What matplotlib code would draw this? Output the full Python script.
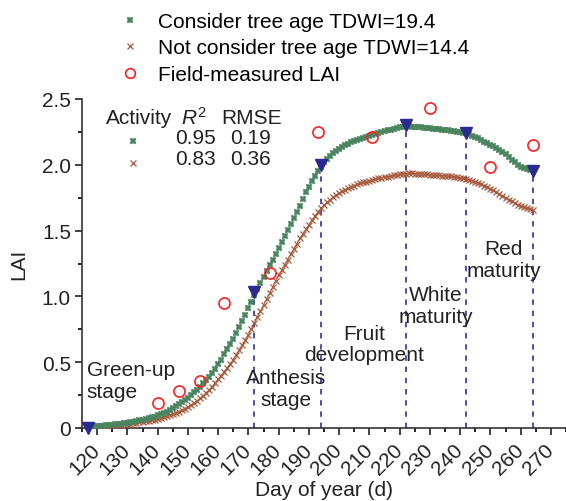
import numpy as np
import matplotlib
matplotlib.use("Agg")
import matplotlib.pyplot as plt
from matplotlib.lines import Line2D

plt.rcParams["font.family"] = ["Liberation Sans", "DejaVu Sans"]
plt.rcParams["mathtext.fontset"] = "custom"
plt.rcParams["mathtext.it"] = "Liberation Sans:italic"
plt.rcParams["mathtext.rm"] = "Liberation Sans"

# simulated LAI, one value per day from DOY 118 to 264
days = list(range(118, 265))

lai_age = [
    0.010, 0.012, 0.014, 0.016, 0.018, 0.020, 0.022, 0.025, 0.028, 0.031,   # 118
    0.034, 0.037, 0.040, 0.044, 0.048, 0.052, 0.057, 0.062, 0.067, 0.073,   # 128
    0.080, 0.087, 0.095, 0.104, 0.114, 0.125, 0.137, 0.150, 0.164, 0.179,   # 138
    0.195, 0.212, 0.230, 0.250, 0.270, 0.292, 0.315, 0.340, 0.365, 0.390,   # 148
    0.420, 0.450, 0.485, 0.520, 0.560, 0.600, 0.640, 0.680, 0.720, 0.765,   # 158
    0.810, 0.860, 0.910, 0.960, 1.010, 1.055, 1.100, 1.145, 1.190, 1.235,   # 168
    1.280, 1.325, 1.370, 1.415, 1.460, 1.505, 1.550, 1.595, 1.645, 1.690,   # 178
    1.740, 1.790, 1.835, 1.875, 1.915, 1.950, 1.985, 2.020, 2.045, 2.070,   # 188
    2.090, 2.105, 2.120, 2.135, 2.148, 2.160, 2.170, 2.180, 2.190, 2.198,   # 198
    2.206, 2.214, 2.222, 2.230, 2.237, 2.244, 2.250, 2.256, 2.262, 2.268,   # 208
    2.274, 2.280, 2.285, 2.290, 2.295, 2.293, 2.290, 2.288, 2.286, 2.284,   # 218
    2.282, 2.280, 2.277, 2.275, 2.272, 2.270, 2.268, 2.266, 2.264, 2.260,   # 228
    2.256, 2.252, 2.248, 2.244, 2.240, 2.232, 2.222, 2.212, 2.200, 2.188,   # 238
    2.176, 2.164, 2.152, 2.140, 2.126, 2.112, 2.098, 2.080, 2.060, 2.040,   # 248
    2.020, 2.000, 1.985, 1.975, 1.968, 1.962, 1.958,                        # 258
]

lai_no_age = [
    0.005, 0.007, 0.009, 0.011, 0.013, 0.015, 0.017, 0.019, 0.021, 0.023,   # 118
    0.025, 0.027, 0.030, 0.033, 0.036, 0.039, 0.042, 0.046, 0.050, 0.054,   # 128
    0.059, 0.064, 0.070, 0.076, 0.083, 0.090, 0.098, 0.106, 0.115, 0.125,   # 138
    0.136, 0.148, 0.160, 0.175, 0.190, 0.207, 0.225, 0.245, 0.267, 0.290,   # 148
    0.315, 0.342, 0.370, 0.398, 0.427, 0.457, 0.488, 0.520, 0.555, 0.590,   # 158
    0.628, 0.668, 0.710, 0.755, 0.800, 0.845, 0.890, 0.935, 0.980, 1.025,   # 168
    1.070, 1.115, 1.160, 1.200, 1.240, 1.280, 1.320, 1.360, 1.400, 1.440,   # 178
    1.475, 1.510, 1.545, 1.578, 1.610, 1.640, 1.668, 1.692, 1.714, 1.735,   # 188
    1.754, 1.771, 1.786, 1.800, 1.812, 1.823, 1.833, 1.842, 1.851, 1.859,   # 198
    1.866, 1.873, 1.879, 1.885, 1.891, 1.896, 1.901, 1.906, 1.911, 1.916,   # 208
    1.920, 1.924, 1.928, 1.931, 1.933, 1.934, 1.934, 1.933, 1.932, 1.931,   # 218
    1.930, 1.928, 1.926, 1.924, 1.922, 1.920, 1.918, 1.916, 1.914, 1.912,   # 228
    1.909, 1.906, 1.902, 1.898, 1.893, 1.887, 1.880, 1.872, 1.863, 1.853,   # 238
    1.842, 1.830, 1.818, 1.805, 1.792, 1.778, 1.764, 1.750, 1.736, 1.722,   # 248
    1.708, 1.695, 1.684, 1.676, 1.670, 1.665, 1.660,                        # 258
]

# field measurements
obs_day = [140, 147, 154, 162, 177, 193, 211, 230, 250, 264]
obs_lai = [0.19, 0.28, 0.36, 0.95, 1.18, 2.25, 2.21, 2.43, 1.98, 2.15]

# phenological stage dates
stage_day = [117, 172, 194, 222, 242, 264]
stage_lai = [0.0, 1.03, 2.00, 2.30, 2.24, 1.955]

stage_names = ["Green-up\nstage", "Anthesis\nstage", "Fruit\ndevelopment",
               "White\nmaturity", "Red\nmaturity"]
stage_text_x = [116.6, 182.5, 208.3, 231.9, 254.4]
stage_text_y = [0.36, 0.30, 0.64, 0.93, 1.28]

green = "#4a8560"
brown = "#a55a3c"
red = "#ff2020"
navy = "#2b2b8f"
dash_c = "#4040aa"

fs = 15

fig = plt.figure(figsize=(5.66, 5.02), dpi=100)
ax = fig.add_axes([82 / 566, 73 / 502, 484 / 566, 329 / 502])

ax.plot(days, lai_no_age, color=brown, lw=0.7, marker="x", ms=3.8, mew=0.9,
        label="Not consider tree age TDWI=14.4", zorder=3)
ax.plot(days, lai_age, color=green, lw=0, marker="X", ms=4.6, mew=0.3,
        label="Consider tree age TDWI=19.4", zorder=4)
ax.plot(obs_day, obs_lai, ls="none", marker="o", ms=8, mfc="none", mec=red,
        mew=1.2, label="Field-measured LAI", zorder=5)

for d, v in zip(stage_day[1:], stage_lai[1:]):
    ax.plot([d, d], [0, v], color=dash_c, lw=1.3, ls=(0, (3, 3.2)), zorder=2)
ax.plot(stage_day, stage_lai, ls="none", marker="v", ms=9, color=navy,
        zorder=6, clip_on=False)

for name, tx, ty in zip(stage_names, stage_text_x, stage_text_y):
    ha = "left" if name.startswith("Green") else "center"
    ax.text(tx, ty, name, fontsize=fs, ha=ha, va="center", color="#222222",
            linespacing=1.15)

ax.set_xlim(115, 275)
ax.set_ylim(0, 2.5)
ax.set_xticks(range(120, 271, 10))
ax.set_xticks(range(115, 276, 5), minor=True)
ax.set_yticks([0, 0.5, 1.0, 1.5, 2.0, 2.5])
ax.set_yticklabels(["0", "0.5", "1.0", "1.5", "2.0", "2.5"])
ax.set_yticks(np.arange(0, 2.51, 0.25), minor=True)
for lab in ax.get_xticklabels():
    lab.set_rotation(45)
    lab.set_ha("right")
    lab.set_va("center")
    lab.set_rotation_mode("anchor")
ax.tick_params(labelsize=fs, colors="#222222", width=1.2, length=5, pad=3)
ax.tick_params(which="minor", width=1.2, length=3)
ax.tick_params(axis="x", pad=8)
for s in ["top", "right"]:
    ax.spines[s].set_visible(False)
for s in ["left", "bottom"]:
    ax.spines[s].set_linewidth(1.2)
    ax.spines[s].set_color("#333333")

ax.set_xlabel("Day of year (d)", fontsize=fs, color="#222222", labelpad=2)
ax.set_ylabel("LAI", fontsize=fs, color="#222222", labelpad=10)

# series legend above the plot
handles = [
    Line2D([], [], ls="none", marker="X", ms=4.6, mew=0.3, color=green),
    Line2D([], [], ls="none", marker="x", ms=3.8, mew=0.9, color=brown),
    Line2D([], [], ls="none", marker="o", ms=7, mfc="none", mec=red, mew=1.2),
]
labels = ["Consider tree age TDWI=19.4", "Not consider tree age TDWI=14.4",
          "Field-measured LAI"]
fig.legend(handles, labels, loc="upper left", bbox_to_anchor=(120 / 566, 1 - 13 / 502),
           frameon=False, fontsize=fs, handlelength=1.0, handletextpad=0.8,
           labelspacing=0.36, borderpad=0, borderaxespad=0)

# accuracy table
tc = "#222222"
fig.text(106 / 566, 1 - 118 / 502, "Activity", fontsize=fs, color=tc, va="center")
fig.text(181 / 566, 1 - 118 / 502, r"$\it{R}^2$", fontsize=fs, color=tc, va="center")
fig.text(221 / 566, 1 - 118 / 502, "RMSE", fontsize=fs, color=tc, va="center")
fig.text(175 / 566, 1 - 139 / 502, "0.95", fontsize=fs, color=tc, va="center")
fig.text(230 / 566, 1 - 139 / 502, "0.19", fontsize=fs, color=tc, va="center")
fig.text(175 / 566, 1 - 160 / 502, "0.83", fontsize=fs, color=tc, va="center")
fig.text(230 / 566, 1 - 160 / 502, "0.36", fontsize=fs, color=tc, va="center")
fig.add_artist(Line2D([133 / 566], [1 - 142 / 502], ls="none", marker="X", ms=4.6,
                      mew=0.3, color=green, transform=fig.transFigure))
fig.add_artist(Line2D([133 / 566], [1 - 164 / 502], ls="none", marker="x", ms=3.8,
                      mew=0.9, color=brown, transform=fig.transFigure))

fig.savefig("out.png", dpi=100)
